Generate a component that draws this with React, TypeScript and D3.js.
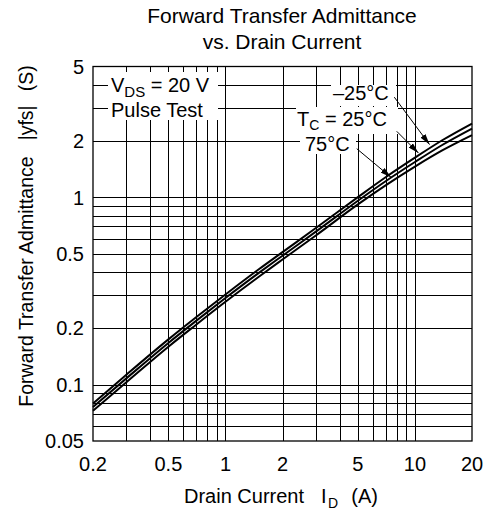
import React from "react";
import * as d3 from "d3";

const currents = [0.2, 0.3, 0.5, 0.7, 1, 1.5, 2, 3, 5, 7, 10, 14, 20];
const yfsMinus25 = [0.0794, 0.113, 0.1745, 0.229, 0.303, 0.413, 0.51, 0.686, 1.003, 1.281, 1.63, 2.025, 2.48];
const yfs25 = [0.076, 0.108, 0.167, 0.219, 0.29, 0.395, 0.488, 0.656, 0.96, 1.22, 1.545, 1.91, 2.33];
const yfs75 = [0.0726, 0.103, 0.1595, 0.209, 0.277, 0.377, 0.466, 0.626, 0.917, 1.159, 1.46, 1.786, 2.15];

const xTickLabels = [0.2, 0.5, 1, 2, 5, 10, 20];
const yTickLabels = [0.05, 0.1, 0.2, 0.5, 1, 2, 5];

// arrow annotations: [startI, startY, tipI, tipY]
const arrowMinus25 = [7.78, 3.43, 11.94, 1.914];
const arrowTc25 = [8.01, 2.254, 10.44, 1.724];
const arrow75 = [4.93, 1.82, 7.48, 1.28];

const W = 494;
const H = 510;
const L = 93, R = 472, T = 66.5, B = 441;
const FONT = "'Liberation Sans', Arial, Helvetica, sans-serif";

export default function App() {
  const x = d3.scaleLog().domain([0.2, 20]).range([L, R]);
  const y = d3.scaleLog().domain([0.05, 5]).range([B, T]);
  const gx = x.ticks().filter((v) => v > 0.2 + 1e-9 && v < 20 - 1e-9);
  const gy = y.ticks().filter((v) => v > 0.05 + 1e-9 && v < 5 - 1e-9);
  const line = d3
    .line<number>()
    .x((_, i) => x(currents[i]))
    .y((d) => y(d))
    .curve(d3.curveMonotoneX);
  const series = [yfsMinus25, yfs25, yfs75];
  const arrows = [arrowMinus25, arrowTc25, arrow75];
  const fmt = (v: number) => String(v);
  const px = (v: number) => Math.round(v) + 0.5;

  return (
    <svg
      width={W}
      height={H}
      viewBox={`0 0 ${W} ${H}`}
      style={{ position: "absolute", left: 0, top: 0, background: "#fff" }}
      fontFamily={FONT}
    >
      <defs>
        <marker id="ah" viewBox="0 0 11 6" refX="11" refY="3" markerWidth="11" markerHeight="6" markerUnits="userSpaceOnUse" orient="auto">
          <path d="M0,0 L11,3 L0,6 Z" fill="#000" />
        </marker>
      </defs>
      <rect x={0} y={0} width={W} height={H} fill="#fff" />
      <text x={282} y={23} textAnchor="middle" fontSize={21}>Forward Transfer Admittance</text>
      <text x={282} y={49} textAnchor="middle" fontSize={21}>vs. Drain Current</text>

      <g stroke="#000" strokeWidth={1} shapeRendering="crispEdges">
        {gx.map((v) => (
          <line key={"gx" + v} x1={px(x(v))} x2={px(x(v))} y1={T} y2={B} />
        ))}
        {gy.map((v) => (
          <line key={"gy" + v} x1={L} x2={R} y1={px(y(v))} y2={px(y(v))} />
        ))}
      </g>

      {/* label backgrounds */}
      <g fill="#fff">
        <rect x={108} y={72} width={110} height={48} />
        <rect x={331} y={85} width={65} height={21} />
        <rect x={296} y={107} width={102} height={27} />
        <rect x={300} y={134} width={56} height={20} />
      </g>

      <rect x={L} y={T} width={R - L} height={B - T} fill="none" stroke="#000" strokeWidth={1.3} />

      <g fill="none" stroke="#000" strokeWidth={2}>
        {series.map((s, i) => (
          <path key={i} d={line(s) || ""} />
        ))}
      </g>

      <g stroke="#000" strokeWidth={1}>
        {arrows.map((a, i) => (
          <line key={i} x1={x(a[0])} y1={y(a[1])} x2={x(a[2])} y2={y(a[3])} markerEnd="url(#ah)" />
        ))}
      </g>

      <g fontSize={20} fill="#000">
        <text x={111} y={92}>
          V<tspan fontSize={15} dy={5}>DS</tspan>
          <tspan dy={-5}> = 20 V</tspan>
        </text>
        <text x={111} y={117}>Pulse Test</text>
        <text x={333} y={100}>–25°C</text>
        <text x={297} y={126}>
          T<tspan fontSize={14} dy={4}>C</tspan>
          <tspan dy={-4}> = 25°C</tspan>
        </text>
        <text x={305} y={151}>75°C</text>
      </g>

      <g fontSize={20} fill="#000">
        {yTickLabels.map((v) => (
          <text key={"yl" + v} x={84} y={y(v)} dy="0.36em" textAnchor="end">{fmt(v)}</text>
        ))}
        {xTickLabels.map((v) => (
          <text key={"xl" + v} x={x(v)} y={471} textAnchor="middle">{fmt(v)}</text>
        ))}
      </g>

      <text x={184} y={503} fontSize={20}>
        Drain Current
        <tspan dx={17}>I</tspan>
        <tspan fontSize={14} dx={1.5} dy={5}>D</tspan>
        <tspan dx={13} dy={-5}>(A)</tspan>
      </text>

      <text transform={`translate(33,${236}) rotate(-90)`} textAnchor="middle" fontSize={19.5}>
        Forward Transfer Admittance<tspan dx={16}>|yfs|</tspan><tspan dx={14}>(S)</tspan>
      </text>
    </svg>
  );
}
